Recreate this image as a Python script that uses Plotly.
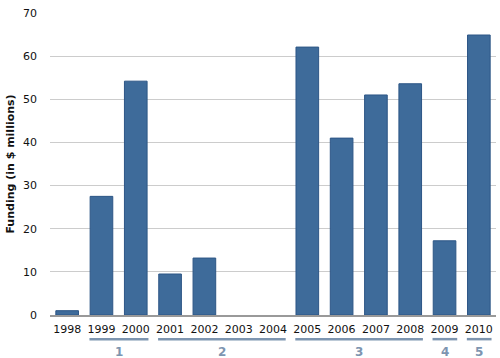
import plotly.graph_objects as go

years = ["1998", "1999", "2000", "2001", "2002", "2003", "2004",
         "2005", "2006", "2007", "2008", "2009", "2010"]
funding = [1.0, 27.5, 54.2, 9.5, 13.2, 0, 0, 62.1, 41.0, 51.0, 53.6, 17.2, 64.9]

group_labels = ["1", "2", "3", "4", "5"]
group_start = ["1999", "2001", "2005", "2009", "2010"]
group_end = ["2000", "2004", "2008", "2009", "2010"]

fig = go.Figure()
fig.add_trace(go.Bar(
    x=years, y=funding,
    marker=dict(color="#3e6b9a",
                line=dict(color="#2d5686",
                          width=[1 if v > 0 else 0 for v in funding])),
))

grp_color = "#7d95b0"
for lab, s, e in zip(group_labels, group_start, group_end):
    i0 = years.index(s)
    i1 = years.index(e)
    fig.add_shape(type="line", xref="x", yref="paper",
                  x0=i0 - 0.35, x1=i1 + 0.37, y0=-0.08, y1=-0.08,
                  line=dict(color=grp_color, width=2.5))
    fig.add_annotation(x=(i0 + i1) / 2, y=-0.123, xref="x", yref="paper",
                       text="<b>" + lab + "</b>", showarrow=False,
                       font=dict(size=12, color=grp_color, family="DejaVu Sans"),
                       yanchor="middle")

fig.update_layout(
    width=500, height=358,
    margin=dict(l=50, r=4, t=13, b=43),
    plot_bgcolor="white", paper_bgcolor="white",
    bargap=0.34,
    showlegend=False,
    font=dict(family="DejaVu Sans", size=11, color="#111111"),
    xaxis=dict(type="category", range=[-0.5, 12.5], showgrid=False,
               showline=True, linecolor="#999999", linewidth=2,
               ticks="", ticklabelstandoff=3,
               tickfont=dict(size=11, color="#111111")),
    yaxis=dict(range=[0, 70], dtick=10, showgrid=True, gridcolor="#cccccc",
               gridwidth=1, zeroline=False, ticks="", ticklabelstandoff=12,
               tickfont=dict(size=11, color="#111111"),
               title=dict(text="<b>Funding (in $ millions)</b>",
                          font=dict(size=11, color="#111111"), standoff=6)),
)

fig.write_html("out.html", config={"displayModeBar": False},
               post_script="document.body.style.margin='0';document.body.style.overflow='hidden';")
